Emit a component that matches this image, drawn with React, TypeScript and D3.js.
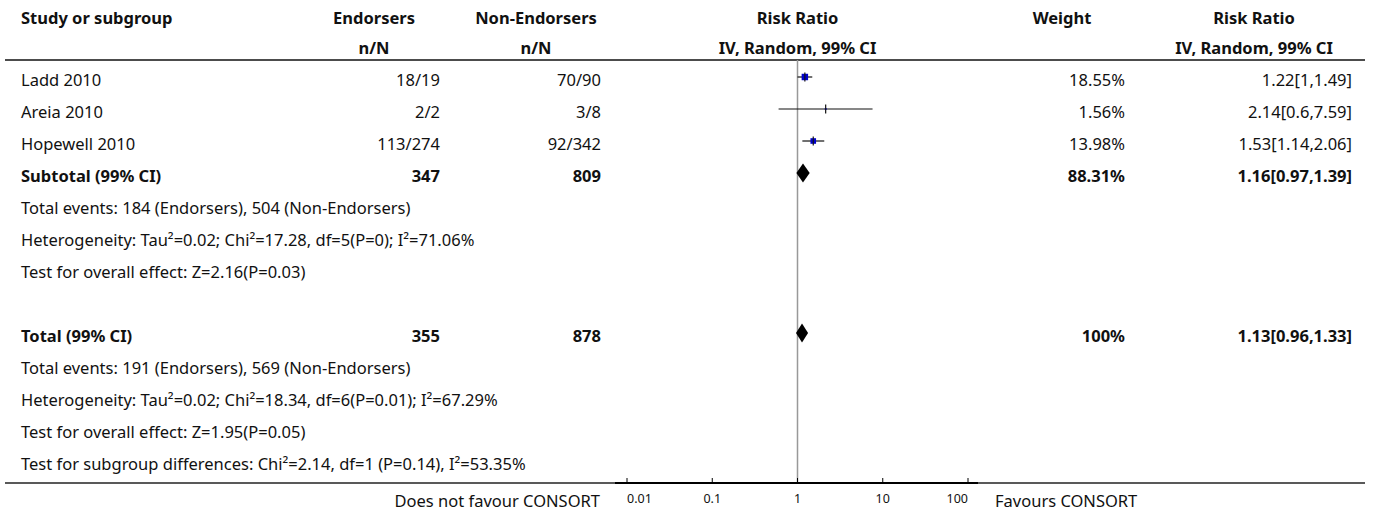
import React from "react";
import * as d3 from "d3";

// ---------- data ----------
const studies = ["Ladd 2010", "Areia 2010", "Hopewell 2010"];
const endorsers = ["18/19", "2/2", "113/274"];
const nonEndorsers = ["70/90", "3/8", "92/342"];
const rr = [1.22, 2.14, 1.53];
const lower = [1, 0.6, 1.14];
const upper = [1.49, 7.59, 2.06];
const weights = [18.55, 1.56, 13.98];

const pooledLabels = ["Subtotal (99% CI)", "Total (99% CI)"];
const pooledEndorsers = ["347", "355"];
const pooledNon = ["809", "878"];
const pooledWeights = ["88.31%", "100%"];
const pooledRR = [1.16, 1.13];
const pooledLower = [0.97, 0.96];
const pooledUpper = [1.39, 1.33];

const subtotalNotes = [
  "Total events: 184 (Endorsers), 504 (Non-Endorsers)",
  "Heterogeneity: Tau\u00B2=0.02; Chi\u00B2=17.28, df=5(P=0); I\u00B2=71.06%",
  "Test for overall effect: Z=2.16(P=0.03)",
];
const totalNotes = [
  "Total events: 191 (Endorsers), 569 (Non-Endorsers)",
  "Heterogeneity: Tau\u00B2=0.02; Chi\u00B2=18.34, df=6(P=0.01); I\u00B2=67.29%",
  "Test for overall effect: Z=1.95(P=0.05)",
  "Test for subgroup differences: Chi\u00B2=2.14, df=1 (P=0.14), I\u00B2=53.35%",
];

const axisTicks = [0.01, 0.1, 1, 10, 100];
const axisTickLabels = ["0.01", "0.1", "1", "10", "100"];
const leftFavour = "Does not favour CONSORT";
const rightFavour = "Favours CONSORT";

const headers1 = ["Study or subgroup", "Endorsers", "Non-Endorsers", "Risk Ratio", "Weight", "Risk Ratio"];
const headers2 = ["", "n/N", "n/N", "IV, Random, 99% CI", "", "IV, Random, 99% CI"];

// ---------- layout ----------
const W = 1375;
const H = 513;
const FONT = "'Noto Sans', 'Open Sans', sans-serif";
const FS = 16.5;
const labelX = 21;
const endRight = 440;
const nonRight = 601;
const wRight = 1125;
const rrRight = 1352;
const headerCenters = [null, 374, 536, 797.5, 1062, 1254];
const lineX0 = 5;
const lineX1 = 1365;
const headerLineY = 60;
const axisY = 483;
const row0 = 79;
const rowH = 32;
const rowY = (i: number) => row0 + rowH * i;

export default function App() {
  const x = d3.scaleLog().domain([0.01, 100]).range([627, 968]);
  const side = d3.scaleSqrt().domain([0, 100]).range([0, 15]);
  const fmtCI = (m: number, l: number, u: number) => `${m}[${l},${u}]`;

  const txt = (
    s: string,
    xx: number,
    yy: number,
    anchor: "start" | "middle" | "end",
    bold = false,
    size = FS,
    key?: string
  ) => (
    <text
      key={key ?? `${s}-${xx}-${yy}`}
      x={xx}
      y={yy}
      textAnchor={anchor}
      dominantBaseline="central"
      fontFamily={FONT}
      fontSize={size}
      fontWeight={bold ? 700 : 400}
      fill="#111"
    >
      {s}
    </text>
  );

  const markOff = -2;
  const pooledRows = [3, 8];

  return (
    <div style={{ position: "absolute", left: 0, top: 0 }}>
      <svg width={W} height={H} style={{ display: "block", background: "#fff" }}>
        {/* headers */}
        {txt(headers1[0], labelX, 17, "start", true)}
        {headers1.slice(1).map((h, i) => txt(h, headerCenters[i + 1] as number, 17, "middle", true, FS, "h1" + i))}
        {headers2.slice(1).map((h, i) =>
          h ? txt(h, headerCenters[i + 1] as number, 47, "middle", true, FS, "h2" + i) : null
        )}
        <line x1={lineX0} x2={lineX1} y1={headerLineY} y2={headerLineY} stroke="#111" strokeWidth={1.5} />

        {/* reference line */}
        <line x1={x(1)} x2={x(1)} y1={headerLineY} y2={axisY} stroke="#999" strokeWidth={1.5} />

        {/* studies */}
        {studies.map((s, i) => {
          const y = rowY(i);
          const my = y + markOff;
          const sz = side(weights[i]);
          return (
            <g key={s}>
              {txt(s, labelX, y, "start")}
              {txt(endorsers[i], endRight, y, "end")}
              {txt(nonEndorsers[i], nonRight, y, "end")}
              {txt(weights[i].toFixed(2) + "%", wRight, y, "end")}
              {txt(fmtCI(rr[i], lower[i], upper[i]), rrRight, y, "end")}
              <line x1={x(lower[i])} x2={x(upper[i])} y1={my} y2={my} stroke="#111" strokeWidth={1.2} />
              <rect x={x(rr[i]) - sz / 2} y={my - sz / 2} width={sz} height={sz} fill="#0000cc" />
              <line x1={x(rr[i])} x2={x(rr[i])} y1={my - 4.5} y2={my + 4.5} stroke="#111" strokeWidth={1.2} />
            </g>
          );
        })}

        {/* pooled rows */}
        {pooledLabels.map((lab, k) => {
          const y = rowY(pooledRows[k]);
          const my = y + markOff;
          const xl = x(pooledLower[k]);
          const xu = x(pooledUpper[k]);
          const xm = x(pooledRR[k]);
          const hh = 9.5;
          const path = `M${xl},${my} L${xm},${my - hh} L${xu},${my} L${xm},${my + hh} Z`;
          return (
            <g key={lab}>
              {txt(lab, labelX, y, "start", true)}
              {txt(pooledEndorsers[k], endRight, y, "end", true)}
              {txt(pooledNon[k], nonRight, y, "end", true)}
              {txt(pooledWeights[k], wRight, y, "end", true)}
              {txt(fmtCI(pooledRR[k], pooledLower[k], pooledUpper[k]), rrRight, y, "end", true)}
              <path d={path} fill="#000" />
            </g>
          );
        })}

        {subtotalNotes.map((n, i) => txt(n, labelX, rowY(4 + i), "start", false, FS, "sn" + i))}
        {totalNotes.map((n, i) => txt(n, labelX, rowY(9 + i), "start", false, FS, "tn" + i))}

        {/* bottom axis */}
        <line x1={lineX0} x2={lineX1} y1={axisY} y2={axisY} stroke="#222" strokeWidth={1.3} />
        <line x1={x(0.01) - 12} x2={x(100) + 10} y1={axisY} y2={axisY} stroke="#000" strokeWidth={2} />
        {axisTicks.map((t, i) => (
          <g key={"t" + t}>
            <line x1={x(t)} x2={x(t)} y1={axisY} y2={axisY - 5} stroke="#000" strokeWidth={1} />
            {txt(
              axisTickLabels[i],
              x(t),
              498,
              i === 0 ? "start" : i === axisTicks.length - 1 ? "end" : "middle",
              false,
              12.5,
              "tl" + i
            )}
          </g>
        ))}
        {txt(leftFavour, 600, 500, "end")}
        {txt(rightFavour, 995, 500, "start")}
      </svg>
    </div>
  );
}
